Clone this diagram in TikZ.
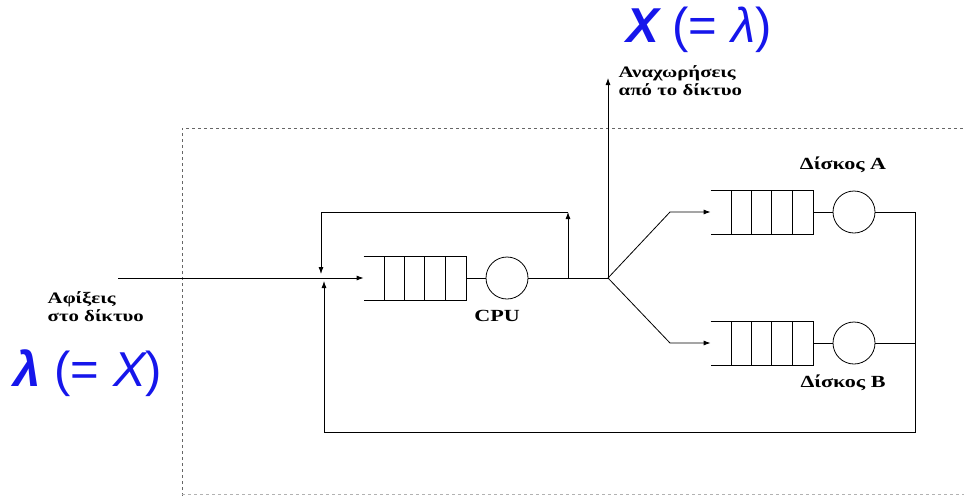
\documentclass[tikz,border=0pt]{standalone}
\usepackage{fontspec}
\setmainfont{Liberation Serif}
\newfontfamily\lblfont[FakeStretch=1.3]{Liberation Serif}
\newfontfamily\ratefont{Liberation Sans}
\usetikzlibrary{arrows.meta}
\definecolor{rate}{RGB}{22,22,235}

\tikzset{
  queue/.style={minimum width=102pt, minimum height=43pt, inner sep=0pt},
  server/.style={draw, circle, minimum size=42pt, inner sep=0pt},
  lbl/.style={font=\lblfont\bfseries\fontsize{16}{18}\selectfont},
  stlbl/.style={font=\lblfont\bfseries\fontsize{17}{19}\selectfont},
  ratelbl/.style={text=rate, font=\ratefont\fontsize{49}{52}\selectfont},
  flow/.style={-{Latex[length=7pt,width=5pt]}},
}
% queue with open left end and 4 cells
\newcommand{\cells}[1]{%
  \draw (#1.north west) -- (#1.north east) -- (#1.south east) -- (#1.south west);
  \foreach \k in {1,...,4}
    \draw ([xshift=\k*20.4pt]#1.north west) -- ([xshift=\k*20.4pt]#1.south west);
}

\begin{document}
\begin{tikzpicture}[x=1pt, y=-1pt, line width=0.8pt]
\useasboundingbox (0,0) rectangle (964,496);

% system boundary
\draw[dashed, black!60] (182,496) -- (182,128) -- (964,128);
\draw[dashed, black!30] (182,494) -- (964,494);

% stations
\node[queue] (cpuq) at (415,278) {};
\node[server] (cpu) at (507,278) {};
\node[queue] (qa) at (762,212) {};
\node[server] (da) at (854,212) {};
\node[queue] (qb) at (762,343) {};
\node[server] (db) at (854,343) {};
\cells{cpuq}
\cells{qa}
\cells{qb}

% routing points
\coordinate (in) at (118,278);
\coordinate (tap) at (568,278);
\coordinate (tapt) at (568,212);
\coordinate (fbl) at (321,212);
\coordinate (fbe) at (321,274);
\coordinate (split) at (608,278);
\coordinate (out) at (608,78);
\coordinate (ka) at (670,212);
\coordinate (kb) at (670,343);
\coordinate (ra) at (915,212);
\coordinate (rb) at (915,343);
\coordinate (br) at (915,432);
\coordinate (bl) at (324,432);
\coordinate (bup) at (324,281);

% connectors
\draw[flow] (in) -- (cpuq.west);
\draw (cpuq.east) -- (cpu);
\draw (cpu) -- (split);
\draw[flow] (tap) -- (tapt);
\draw[flow] (tapt) -- (fbl) -- (fbe);
\draw[flow] (split) -- (out);
\draw[flow] (split) -- (ka) -- (qa.west);
\draw[flow] (split) -- (kb) -- (qb.west);
\draw (qa.east) -- (da);
\draw (da) -- (ra);
\draw (qb.east) -- (db);
\draw (db) -- (rb);
\draw[flow] (ra) -- (br) -- (bl) -- (bup);

% labels
\node[stlbl] (cpul) at (497,316) {CPU};
\node[stlbl] (dal) at (843,165) {Δίσκος A};
\node[stlbl] (dbl) at (843,383) {Δίσκος B};
\node[lbl, anchor=west, align=left] (dep) at (615,81) {Αναχωρήσεις\\από το δίκτυο};
\node[lbl, anchor=west, align=left] (arr) at (44,307) {Αφίξεις\\στο δίκτυο};

\node[ratelbl] (xr) at (699,30) {\bfseries\itshape X \mdseries\upshape(= \itshape λ\upshape)};
\node[ratelbl] (lr) at (88,373) {\bfseries\itshape λ \mdseries\upshape(= \itshape X\upshape)};
\end{tikzpicture}
\end{document}
